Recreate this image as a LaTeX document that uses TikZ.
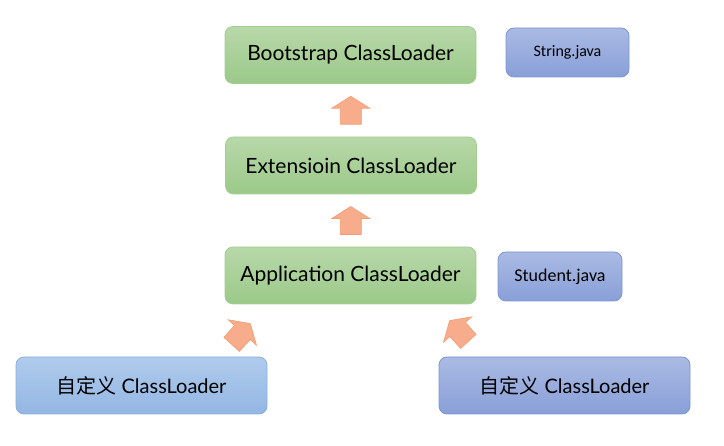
\documentclass[tikz,border=0pt]{standalone}
\usepackage{fontspec}
\newfontfamily\clsfont{Lato}
\newfontfamily\jvfont{Carlito}
\newfontfamily\cjkfont{Noto Sans CJK SC}
\usetikzlibrary{calc}
\definecolor{gtop}{HTML}{B8D8A9}
\definecolor{gbot}{HTML}{9BC989}
\definecolor{gline}{HTML}{A3CE90}
\definecolor{ptop}{HTML}{AABAE3}
\definecolor{pbot}{HTML}{889FD8}
\definecolor{pline}{HTML}{7D95D3}
\definecolor{btop}{HTML}{AFCBEC}
\definecolor{bbot}{HTML}{93B6E3}
\definecolor{bline}{HTML}{8CAFE0}
\definecolor{afill}{HTML}{F7AD8C}
\definecolor{aline}{HTML}{F39C74}
\tikzset{
  greenbox/.style={draw=gline, line width=0.8pt, rounded corners=8pt, top color=gtop, bottom color=gbot,
    minimum width=251pt, minimum height=57pt, inner sep=0pt, font=\clsfont\fontsize{21}{24}\selectfont},
  purplebox/.style={draw=pline, line width=0.8pt, rounded corners=8pt, top color=ptop, bottom color=pbot, inner sep=0pt},
  bluebox/.style={draw=bline, line width=0.8pt, rounded corners=8pt, top color=btop, bottom color=bbot, inner sep=0pt},
  javabox/.style={purplebox, minimum width=123pt, minimum height=49pt, font=\jvfont\fontsize{16}{19}\selectfont},
  custombox/.style={minimum width=251pt, minimum height=57pt, font=\clsfont\fontsize{20}{23}\selectfont},
  blockarrow/.pic={
    \draw[draw=aline, fill=afill, line width=0.6pt, line join=miter]
      (0pt,14pt) -- (19pt,2pt) -- (10.5pt,2pt) -- (10.5pt,-14pt) -- (-10.5pt,-14pt)
      -- (-10.5pt,2pt) -- (-19pt,2pt) -- cycle;
  }
}
\begin{document}
\begin{tikzpicture}[x=1pt, y=-1pt]
\useasboundingbox (0,0) rectangle (724,446);
\node[greenbox] (boot) at (350.5,55) {Bootstrap ClassLoader};
\node[greenbox] (ext) at (351,165.5) {Extensioin ClassLoader};
\node[greenbox] (app) at (350.5,275.5) {Application ClassLoader};
\node[javabox] (str) at (567.5,52.5) {String.java};
\node[javabox, minimum width=124pt, font=\jvfont\fontsize{18}{21}\selectfont] (stu) at (560,276.5) {Student.java};
\node[bluebox, custombox] (c1) at (141.5,385.5) {{\cjkfont 自定义} ClassLoader};
\node[purplebox, custombox] (c2) at (564.5,385.5) {{\cjkfont 自定义} ClassLoader};
\path ($(boot.south)!0.5!(ext.north)$) pic {blockarrow};
\path ($(ext.south)!0.5!(app.north)$) pic {blockarrow};
\path (241,334) pic[rotate=-42] {blockarrow};
\path (459,331) pic[rotate=42] {blockarrow};
\end{tikzpicture}
\end{document}
